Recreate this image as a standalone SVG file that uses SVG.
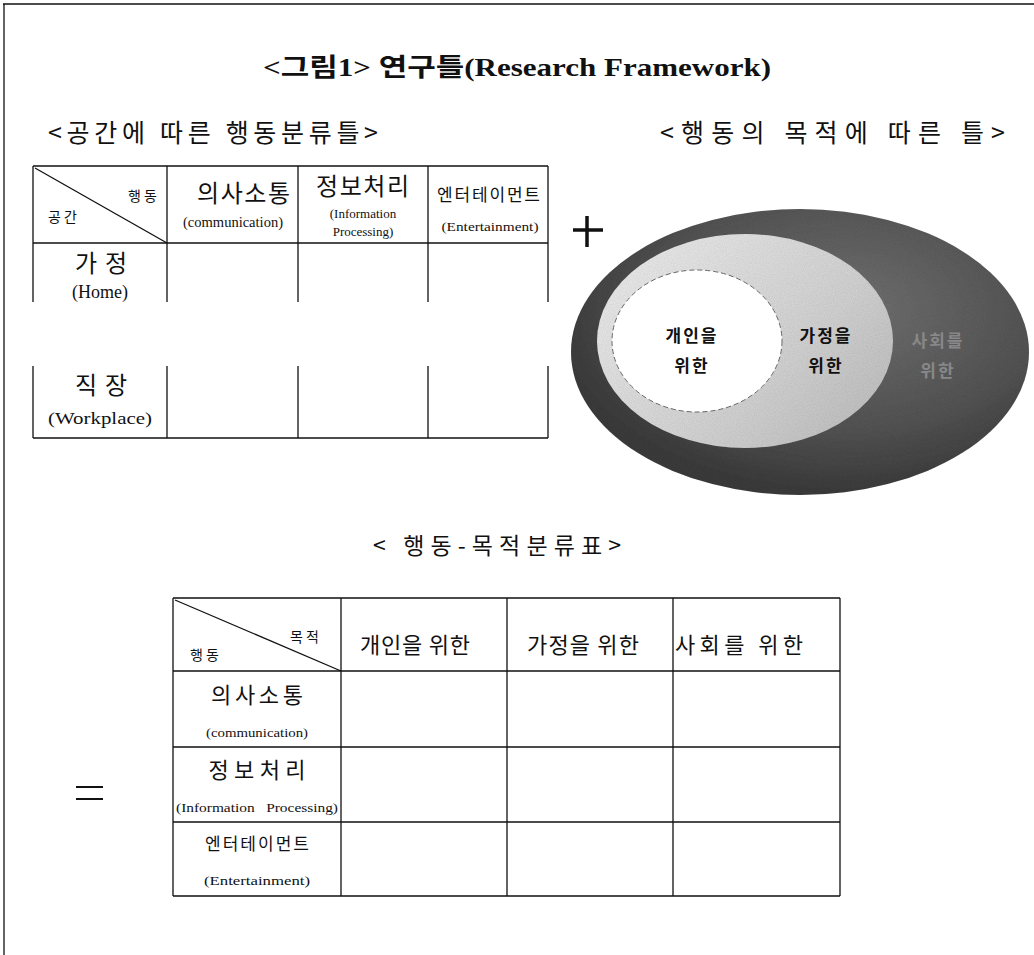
<svg xmlns="http://www.w3.org/2000/svg" width="1034" height="955" viewBox="0 0 1034 955">
<style>
text{font-family:"Liberation Serif","Noto Sans CJK KR",serif;fill:#111}
.k{font-family:"Noto Sans CJK KR","Liberation Sans",sans-serif}
.m{text-anchor:middle}
.ln{stroke:#111;stroke-width:1.3;fill:none}
.b{font-weight:bold}
</style>
<defs>
<radialGradient id="gOuter" cx="0.6" cy="0.35" r="0.65">
<stop offset="0" stop-color="#747474"/>
<stop offset="0.65" stop-color="#555"/>
<stop offset="1" stop-color="#3c3c3c"/>
</radialGradient>
<linearGradient id="gMid" x1="0" y1="0.2" x2="1" y2="0.9">
<stop offset="0" stop-color="#efefef"/>
<stop offset="0.6" stop-color="#d6d6d6"/>
<stop offset="1" stop-color="#c0c0c0"/>
</linearGradient>
<filter id="noise" x="0" y="0" width="100%" height="100%">
<feTurbulence type="fractalNoise" baseFrequency="0.9" numOctaves="2" seed="3" result="n"/>
<feColorMatrix in="n" type="matrix" values="0 0 0 0 0  0 0 0 0 0  0 0 0 0 0  0 0 0 0.22 0" result="na"/>
<feComposite in="na" in2="SourceGraphic" operator="in" result="nm"/>
<feMerge><feMergeNode in="SourceGraphic"/><feMergeNode in="nm"/></feMerge>
</filter>
</defs>
<rect width="1034" height="955" fill="#fff"/>
<g id="frame">
<line class="ln" x1="3" y1="4" x2="1034" y2="4" stroke-width="1.5"/>
<line class="ln" x1="4" y1="4" x2="4" y2="955" stroke-width="1.5"/>
</g>
<g id="title">
<text class="m b" x="517" y="76" font-size="25" textLength="508" lengthAdjust="spacingAndGlyphs">&lt;그림1&gt; 연구틀(Research Framework)</text>
</g>
<g id="label-space">
<text class="k" x="48" y="142" font-size="25" textLength="330" lengthAdjust="spacing">&lt;공간에 따른 행동분류틀&gt;</text>
</g>
<g id="label-purpose">
<text class="k" x="660" y="142" font-size="25" textLength="345" lengthAdjust="spacing">&lt;행동의 목적에 따른 틀&gt;</text>
</g>
<g id="table-space">
<line class="ln" x1="33" y1="166" x2="548" y2="166"/>
<line class="ln" x1="33" y1="243" x2="548" y2="243"/>
<line class="ln" x1="33" y1="438" x2="548" y2="438"/>
<line class="ln" x1="35" y1="168" x2="167" y2="243" stroke-width="1"/>
<path class="ln" d="M33 166V302M167 166V302M298 166V302M428 166V302M548 166V302"/>
<path class="ln" d="M33 366V438M167 366V438M298 366V438M428 366V438M548 366V438"/>
<text class="k" x="128" y="201" font-size="14" letter-spacing="3">행동</text>
<text class="k" x="48" y="222" font-size="14" letter-spacing="3">공간</text>
<text class="k" x="197" y="202" font-size="24" textLength="93" lengthAdjust="spacing">의사소통</text>
<text class="m" x="233" y="227" font-size="14" textLength="100" lengthAdjust="spacingAndGlyphs">(communication)</text>
<text class="k" x="316" y="195" font-size="24" textLength="93" lengthAdjust="spacing">정보처리</text>
<text class="m" x="363" y="218" font-size="13">(Information</text>
<text class="m" x="363" y="236" font-size="13">Processing)</text>
<text class="k" x="437" y="201" font-size="17" textLength="103" lengthAdjust="spacing">엔터테이먼트</text>
<text class="m" x="490" y="231" font-size="13" textLength="97" lengthAdjust="spacingAndGlyphs">(Entertainment)</text>
<text class="k" x="75" y="272" font-size="24" textLength="52" lengthAdjust="spacing">가정</text>
<text class="m" x="100" y="298" font-size="18">(Home)</text>
<text class="k" x="75" y="394" font-size="24" textLength="52" lengthAdjust="spacing">직장</text>
<text class="m" x="100" y="424" font-size="17" textLength="104" lengthAdjust="spacingAndGlyphs">(Workplace)</text>
</g>
<g id="plus">
<path d="M573 230H603M587 216V247" stroke="#111" stroke-width="3.5" fill="none"/>
</g>
<g id="circles">
<ellipse cx="800" cy="352" rx="229" ry="143" fill="url(#gOuter)" filter="url(#noise)"/>
<ellipse cx="745" cy="341" rx="148" ry="107" fill="url(#gMid)" filter="url(#noise)"/>
<ellipse cx="697" cy="341" rx="85" ry="71" fill="#fff" stroke="#666" stroke-width="1" stroke-dasharray="5 3"/>
<text class="k m b" x="692" y="342" font-size="17" letter-spacing="2">개인을</text>
<text class="k m b" x="692" y="372" font-size="17" letter-spacing="2">위한</text>
<text class="k m b" x="826" y="342" font-size="17" letter-spacing="2">가정을</text>
<text class="k m b" x="826" y="372" font-size="17" letter-spacing="2">위한</text>
<text class="k m b" x="938" y="347" font-size="17" letter-spacing="2" style="fill:#888">사회를</text>
<text class="k m b" x="938" y="377" font-size="17" letter-spacing="2" style="fill:#888">위한</text>
</g>
<g id="label-table2">
<text class="k" x="373" y="554" font-size="23" textLength="248" lengthAdjust="spacing">&lt; 행동-목적분류표&gt;</text>
</g>
<g id="equals">
<path d="M76 787H103M76 799H103" stroke="#111" stroke-width="2"/>
</g>
<g id="table-purpose">
<path class="ln" d="M173 598H840M173 671H840M173 747H840M173 822H840M173 896H840"/>
<path class="ln" d="M173 598V896M341 598V896M507 598V896M673 598V896M840 598V896"/>
<line class="ln" x1="175" y1="600" x2="341" y2="671" stroke-width="1"/>
<text class="k" x="290" y="642" font-size="14" letter-spacing="3">목적</text>
<text class="k" x="190" y="660" font-size="14" letter-spacing="3">행동</text>
<text class="k" x="360" y="653" font-size="22" textLength="110" lengthAdjust="spacing">개인을 위한</text>
<text class="k" x="527" y="653" font-size="22" textLength="112" lengthAdjust="spacing">가정을 위한</text>
<text class="k" x="675" y="653" font-size="22" textLength="128" lengthAdjust="spacing">사회를 위한</text>
<text class="k m" x="257" y="703" font-size="22" textLength="92" lengthAdjust="spacing">의사소통</text>
<text class="m" x="257" y="737" font-size="12" textLength="102" lengthAdjust="spacingAndGlyphs">(communication)</text>
<text class="k m" x="257" y="778" font-size="22" textLength="97" lengthAdjust="spacing">정보처리</text>
<text class="m" x="257" y="812" font-size="12" textLength="162" lengthAdjust="spacingAndGlyphs" xml:space="preserve">(Information   Processing)</text>
<text class="k m" x="257" y="850" font-size="17" textLength="104" lengthAdjust="spacing">엔터테이먼트</text>
<text class="m" x="257" y="885" font-size="12" textLength="106" lengthAdjust="spacingAndGlyphs">(Entertainment)</text>
</g>
</svg>
